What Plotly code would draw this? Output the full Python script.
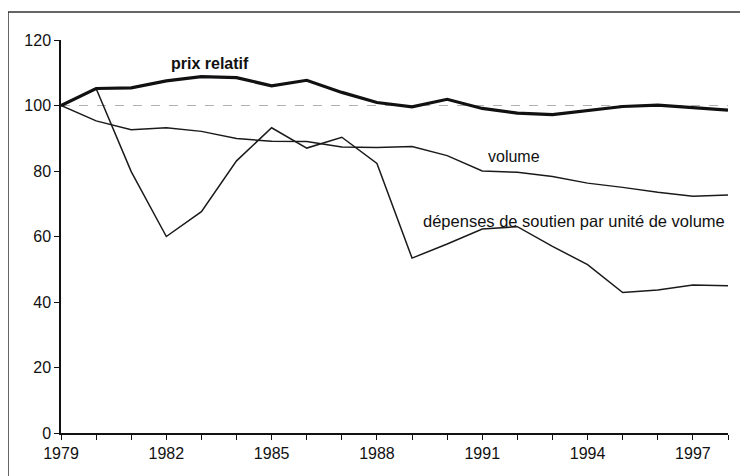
import plotly.graph_objects as go

years = list(range(1979, 1999))
prix_relatif = [100, 105.2, 105.4, 107.5, 108.8, 108.5, 106.0, 107.7, 104.0, 100.9,
                99.6, 101.9, 99.1, 97.7, 97.2, 98.4, 99.7, 100.1, 99.3, 98.6]
volume = [100, 95.3, 92.6, 93.2, 92.1, 89.9, 89.1, 89.0, 87.3, 87.2,
          87.5, 84.7, 80.0, 79.6, 78.3, 76.3, 75.0, 73.5, 72.3, 72.7]
depenses = [100, 105.2, 79.8, 60.0, 67.6, 83.1, 93.2, 87.0, 90.3, 82.3,
            53.4, 57.7, 62.3, 63.0, 57.0, 51.4, 42.9, 43.7, 45.2, 45.0]
reference = [100] * len(years)
tick_labels = [str(y) if (y - 1979) % 3 == 0 else "" for y in years]

FONT = "Liberation Sans, Arial, sans-serif"

fig = go.Figure()
fig.add_trace(go.Scatter(x=years, y=reference, mode="lines",
                         line=dict(color="#b0b0b0", width=1, dash="dash"),
                         showlegend=False, hoverinfo="skip"))
fig.add_trace(go.Scatter(x=years, y=volume, mode="lines", name="volume",
                         line=dict(color="#1a1a1a", width=1.5), showlegend=False))
fig.add_trace(go.Scatter(x=years, y=depenses, mode="lines",
                         name="dépenses de soutien par unité de volume",
                         line=dict(color="#1a1a1a", width=1.5), showlegend=False))
fig.add_trace(go.Scatter(x=years, y=prix_relatif, mode="lines", name="prix relatif",
                         line=dict(color="#111111", width=3.2), showlegend=False))

annotations = [
    dict(x=1983.25, y=112.7, text="<b>prix relatif</b>", size=16),
    dict(x=1991.9, y=84.4, text="volume", size=16),
    dict(x=1993.6, y=64.8, text="dépenses de soutien par unité de volume", size=16.5),
]
for a in annotations:
    fig.add_annotation(x=a["x"], y=a["y"], text=a["text"], showarrow=False,
                       xref="x", yref="y",
                       font=dict(family=FONT, size=a["size"], color="#111111"))

fig.add_shape(type="rect", xref="paper", yref="paper",
              x0=(0 - 53) / 667, x1=1.2, y0=-0.3, y1=(425 - 4) / 393,
              line=dict(color="#333333", width=1.5), fillcolor="rgba(0,0,0,0)",
              layer="below")

fig.update_layout(
    width=740, height=468,
    margin=dict(l=53, r=20, t=32, b=43),
    paper_bgcolor="white", plot_bgcolor="white",
    font=dict(family=FONT, size=16, color="#111111"),
    showlegend=False,
)
fig.update_xaxes(range=[1979, 1998], tickvals=years, ticktext=tick_labels,
                 showgrid=False, zeroline=False, showline=True,
                 linecolor="#111111", linewidth=1.5,
                 ticks="outside", ticklen=5, tickwidth=1.2, tickcolor="#111111",
                 tickfont=dict(size=16))
fig.update_yaxes(range=[0, 120], tickvals=[0, 20, 40, 60, 80, 100, 120],
                 showgrid=False, zeroline=False, showline=True,
                 linecolor="#111111", linewidth=1.5,
                 ticks="outside", ticklen=5, tickwidth=1.2, tickcolor="#111111",
                 tickfont=dict(size=16))

fig.write_html("out.html")
